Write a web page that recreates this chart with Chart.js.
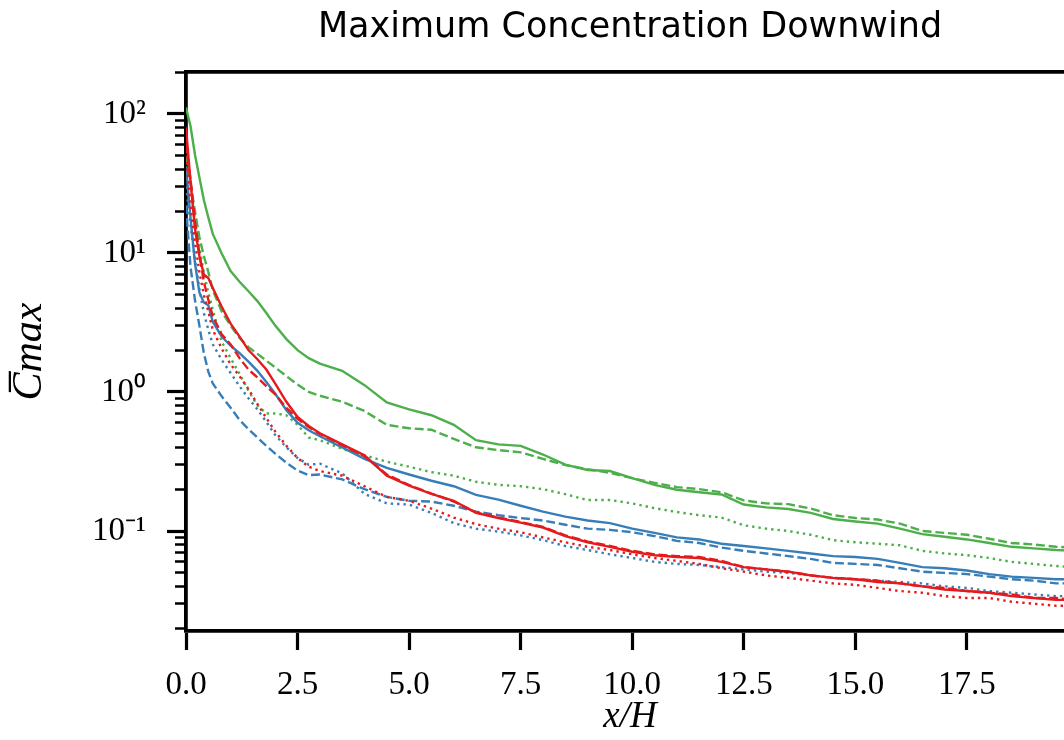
<!DOCTYPE html>
<html><head><meta charset="utf-8">
<script src="https://cdn.jsdelivr.net/npm/chart.js@4.4.1/dist/chart.umd.min.js"></script>
<style>html,body{margin:0;padding:0;overflow:hidden;background:#fff;width:1064px;height:740px}canvas{display:block}</style>
</head><body>
<canvas id="c" width="1100" height="740" style="width:1100px;height:740px"></canvas>
<script>
const xs = [0, 0.1, 0.2, 0.3, 0.4, 0.5, 0.6, 0.8, 1.0, 1.2, 1.4, 1.6, 1.8, 2.0, 2.25, 2.5, 2.75, 3.0, 3.5, 4.0, 4.5, 5.0, 5.5, 6.0, 6.5, 7.0, 7.5, 8.0, 8.5, 9.0, 9.5, 10, 10.5, 11, 11.5, 12, 12.5, 13, 13.5, 14, 14.5, 15, 15.5, 16, 16.5, 17, 17.5, 18, 18.5, 19, 19.5, 19.9];

const greenSolid = [111, 82, 51, 35, 24, 18, 13.7, 9.9, 7.4, 6.2, 5.3, 4.5, 3.7, 3.0, 2.4, 2.0, 1.75, 1.6, 1.42, 1.12, 0.84, 0.75, 0.68, 0.58, 0.45, 0.42, 0.41, 0.355, 0.30, 0.275, 0.27, 0.24, 0.215, 0.198, 0.19, 0.183, 0.155, 0.148, 0.144, 0.135, 0.122, 0.117, 0.113, 0.104, 0.095, 0.091, 0.087, 0.082, 0.077, 0.075, 0.073, 0.072];
const greenDashed = [50, 32, 20, 13, 9.5, 7.3, 5.4, 3.8, 3.0, 2.45, 2.1, 1.88, 1.68, 1.5, 1.3, 1.13, 1.0, 0.94, 0.85, 0.73, 0.58, 0.548, 0.535, 0.46, 0.40, 0.382, 0.368, 0.33, 0.298, 0.278, 0.262, 0.24, 0.222, 0.207, 0.2, 0.19, 0.166, 0.158, 0.156, 0.145, 0.13, 0.124, 0.121, 0.113, 0.1, 0.097, 0.094, 0.088, 0.082, 0.08, 0.077, 0.076];
const greenDotted = [45, 33, 18, 11, 7.2, 5.2, 3.9, 2.3, 1.75, 1.35, 1.02, 0.8, 0.70, 0.70, 0.68, 0.58, 0.47, 0.45, 0.39, 0.35, 0.315, 0.29, 0.265, 0.25, 0.226, 0.215, 0.21, 0.2, 0.184, 0.167, 0.167, 0.158, 0.146, 0.137, 0.13, 0.125, 0.11, 0.104, 0.1, 0.094, 0.086, 0.083, 0.081, 0.079, 0.072, 0.069, 0.067, 0.064, 0.06, 0.058, 0.056, 0.055];

const blueSolid = [42, 18, 8.5, 5.2, 4.4, 4.2, 3.2, 2.5, 2.15, 1.9, 1.65, 1.42, 1.18, 0.97, 0.74, 0.6, 0.53, 0.48, 0.40, 0.33, 0.285, 0.255, 0.23, 0.21, 0.182, 0.168, 0.152, 0.138, 0.127, 0.119, 0.114, 0.104, 0.097, 0.09, 0.087, 0.081, 0.078, 0.075, 0.072, 0.069, 0.066, 0.065, 0.063, 0.059, 0.055, 0.054, 0.052, 0.049, 0.047, 0.046, 0.045, 0.045];
const blueDashed = [22, 8, 4.6, 3.0, 1.9, 1.4, 1.15, 0.93, 0.77, 0.63, 0.54, 0.47, 0.41, 0.36, 0.31, 0.272, 0.252, 0.255, 0.235, 0.2, 0.176, 0.165, 0.163, 0.152, 0.138, 0.13, 0.124, 0.119, 0.111, 0.104, 0.102, 0.098, 0.092, 0.085, 0.082, 0.076, 0.072, 0.069, 0.066, 0.063, 0.059, 0.058, 0.057, 0.054, 0.051, 0.05, 0.049, 0.047, 0.045, 0.044, 0.042, 0.042];
const blueDotted = [30, 16, 9, 5.5, 3.7, 2.8, 2.2, 1.7, 1.37, 1.1, 0.9, 0.75, 0.61, 0.49, 0.4, 0.335, 0.3, 0.305, 0.26, 0.185, 0.158, 0.155, 0.135, 0.114, 0.104, 0.099, 0.093, 0.086, 0.078, 0.073, 0.068, 0.064, 0.06, 0.058, 0.057, 0.055, 0.053, 0.051, 0.05, 0.048, 0.046, 0.045, 0.044, 0.043, 0.042, 0.04, 0.039, 0.037, 0.036, 0.035, 0.034, 0.034];

const redSolid = [80, 33, 15, 9.5, 7.0, 6.6, 5.6, 4.1, 3.1, 2.5, 2.0, 1.72, 1.45, 1.15, 0.85, 0.66, 0.57, 0.505, 0.42, 0.35, 0.25, 0.212, 0.185, 0.165, 0.135, 0.124, 0.115, 0.106, 0.092, 0.083, 0.077, 0.071, 0.067, 0.065, 0.064, 0.06, 0.055, 0.053, 0.051, 0.048, 0.046, 0.045, 0.043, 0.042, 0.04, 0.038, 0.037, 0.036, 0.034, 0.033, 0.032, 0.032];
const redDashed = [60, 34, 17, 9.8, 6.2, 4.6, 3.5, 2.6, 2.2, 1.75, 1.45, 1.27, 1.1, 0.96, 0.77, 0.64, 0.56, 0.5, 0.415, 0.345, 0.255, 0.214, 0.186, 0.163, 0.136, 0.125, 0.116, 0.107, 0.093, 0.084, 0.078, 0.072, 0.068, 0.066, 0.065, 0.061, 0.055, 0.053, 0.051, 0.048, 0.046, 0.045, 0.044, 0.042, 0.04, 0.039, 0.037, 0.036, 0.035, 0.033, 0.033, 0.032];
const redDotted = [50, 22, 12, 7.3, 5.0, 3.8, 2.8, 2.05, 1.58, 1.3, 1.05, 0.82, 0.65, 0.52, 0.41, 0.335, 0.29, 0.27, 0.25, 0.21, 0.176, 0.165, 0.145, 0.125, 0.112, 0.104, 0.098, 0.09, 0.083, 0.077, 0.073, 0.068, 0.064, 0.061, 0.058, 0.054, 0.051, 0.048, 0.046, 0.044, 0.042, 0.041, 0.039, 0.037, 0.036, 0.034, 0.033, 0.033, 0.031, 0.03, 0.029, 0.029];

const xTicks = [0, 2.5, 5, 7.5, 10, 12.5, 15, 17.5];
const xTickLabels = ['0.0', '2.5', '5.0', '7.5', '10.0', '12.5', '15.0', '17.5'];
const yMajorTicks = [0.1, 1, 10, 100];
const yTickLabels = ['10\u207B\u00B9', '10\u2070', '10\u00B9', '10\u00B2'];
const yMinorTicks = [0.02, 0.03, 0.04, 0.05, 0.06, 0.07, 0.08, 0.09, 0.2, 0.3, 0.4, 0.5, 0.6, 0.7, 0.8, 0.9, 2, 3, 4, 5, 6, 7, 8, 9, 20, 30, 40, 50, 60, 70, 80, 90, 200];

const GREEN = '#4daf4a', BLUE = '#377eb8', RED = '#e41a1c';
const LW = 2.4;
const DASH = [8.9, 3.8], DOT = [2.4, 4.0];

function ds(label, ys, color, dash) {
  return {
    label, data: xs.map((x, i) => ({x: x, y: ys[i]})),
    borderColor: color, backgroundColor: color, borderWidth: LW, borderDash: dash,
    borderCapStyle: 'butt', pointRadius: 0, tension: 0, fill: false
  };
}

const datasets = [
  ds('red solid', redSolid, RED, []),
  ds('red dashed', redDashed, RED, DASH),
  ds('red dotted', redDotted, RED, DOT),
  ds('blue solid', blueSolid, BLUE, []),
  ds('blue dashed', blueDashed, BLUE, DASH),
  ds('blue dotted', blueDotted, BLUE, DOT),
  ds('green solid', greenSolid, GREEN, []),
  ds('green dashed', greenDashed, GREEN, DASH),
  ds('green dotted', greenDotted, GREEN, DOT)
];

const allY = yMajorTicks.concat(yMinorTicks).sort((a, b) => a - b);
const isMajor = v => yMajorTicks.indexOf(v) >= 0;
const tickFont = {family: 'Liberation Serif', size: 33};

new Chart(document.getElementById('c'), {
  type: 'line',
  data: {datasets},
  options: {
    responsive: false, animation: false, devicePixelRatio: 1,
    layout: {padding: {left: 0, right: 26, top: 0, bottom: 0}},
    plugins: {
      legend: {display: false}, tooltip: {enabled: false},
      title: {
        display: true, text: 'Maximum Concentration Downwind', fullSize: false, color: '#000',
        font: {family: 'DejaVu Sans', size: 35, weight: 'normal'},
        padding: {top: 7, bottom: 23}
      }
    },
    scales: {
      x: {
        type: 'linear', position: 'bottom', min: 0, max: 19.9,
        afterBuildTicks: s => { s.ticks = xTicks.map(v => ({value: v})); },
        afterFit: s => { s.height = 109; },
        ticks: {autoSkip: false, maxRotation: 0, padding: 16, color: '#000', font: tickFont,
          callback: v => xTickLabels[xTicks.indexOf(v)]},
        grid: {drawOnChartArea: false, drawTicks: true, tickLength: 19, tickWidth: 3.2, tickColor: '#000'},
        border: {display: true, width: 3.8, color: '#000'},
        title: {display: true, text: 'x/H', color: '#000',
          font: {family: 'Liberation Serif', style: 'italic', size: 37}, padding: {top: 0, bottom: 1}}
      },
      xTop: {
        type: 'linear', position: 'top', min: 0, max: 19.9,
        afterBuildTicks: s => { s.ticks = []; },
        afterFit: s => { s.height = 0; },
        ticks: {display: false},
        grid: {drawOnChartArea: false, drawTicks: false},
        border: {display: true, width: 3.8, color: '#000'}
      },
      y: {
        type: 'logarithmic', position: 'left', min: 0.0191, max: 200,
        afterBuildTicks: s => { s.ticks = allY.map(v => ({value: v})); },
        afterFit: s => { s.width = 186; },
        ticks: {autoSkip: false, padding: 21, color: '#000', font: tickFont,
          callback: v => { const k = yMajorTicks.indexOf(v); return k >= 0 ? yTickLabels[k] : ''; }},
        grid: {
          drawOnChartArea: false, drawTicks: true, tickLength: 19, tickColor: '#000',
          tickWidth: c => isMajor(c.tick.value) ? 3.2 : 2.4,
          tickBorderDash: c => isMajor(c.tick.value) ? [] : [0, 8, 20, 100]
        },
        border: {display: true, width: 3.8, color: '#000'},
        title: {display: true, text: 'C\u0305max', color: '#000',
          font: {family: 'Liberation Serif', style: 'italic', size: 42}, padding: {top: 5, bottom: 0}}
      }
    }
  }
});
</script>
</body></html>
